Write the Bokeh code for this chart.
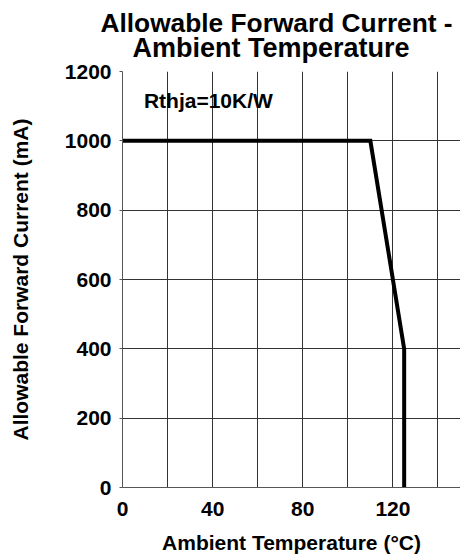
from bokeh.plotting import figure
from bokeh.models import FixedTicker, Label, Range1d, Title
from bokeh.embed import file_html
from bokeh.resources import INLINE

title_lines = ["Allowable Forward Current -", "Ambient Temperature"]
x_label = "Ambient Temperature (°C)"
y_label = "Allowable Forward Current (mA)"
note = "Rthja=10K/W"
temp = [0, 110, 125, 125]
current = [1000, 1000, 400, 0]
x_ticks = [0, 40, 80, 120]
x_grid = [20, 40, 60, 80, 100, 120, 140]
y_ticks = [0, 200, 400, 600, 800, 1000, 1200]
y_grid = [200, 400, 600, 800, 1000]

FONT = "Liberation Sans"

p = figure(width=460, height=557, output_backend="svg", toolbar_location=None,
           x_range=Range1d(0, 150), y_range=Range1d(0, 1200),
           min_border_left=122, min_border_right=0, min_border_top=71,
           min_border_bottom=70)
p.outline_line_color = None
p.background_fill_color = "white"
p.border_fill_color = "white"

t2 = Title(text=title_lines[1], align="left", offset=10, text_font=FONT,
           text_font_size="27px", text_font_style="bold", text_color="black",
           standoff=18)
t1 = Title(text=title_lines[0], align="left", offset=-22, text_font=FONT,
           text_font_size="26.3px", text_font_style="bold", text_color="black",
           standoff=-32)
p.add_layout(t2, "above")
p.add_layout(t1, "above")

p.xaxis.ticker = FixedTicker(ticks=x_ticks)
p.yaxis.ticker = FixedTicker(ticks=y_ticks)
p.xgrid.ticker = FixedTicker(ticks=x_grid)
p.ygrid.ticker = FixedTicker(ticks=y_grid)
for g in (p.xgrid, p.ygrid):
    g.grid_line_color = "#333333"
    g.grid_line_width = 1
    g.grid_line_alpha = 1

for ax in (p.xaxis, p.yaxis):
    ax.axis_line_color = "#555555"
    ax.axis_line_width = 1
    ax.major_tick_line_color = "#555555"
    ax.minor_tick_line_color = None
    ax.major_tick_in = 0
    ax.major_label_text_font = FONT
    ax.major_label_text_font_size = "21px"
    ax.major_label_text_font_style = "bold"
    ax.major_label_text_color = "black"
    ax.axis_label_text_font = FONT
    ax.axis_label_text_font_size = "21px"
    ax.axis_label_text_font_style = "bold"
    ax.axis_label_text_color = "black"

p.xaxis.major_tick_out = 0
p.xaxis.major_label_standoff = 14
p.xaxis.axis_label = x_label
p.xaxis.axis_label_standoff = 12
p.yaxis.major_tick_out = 3
p.yaxis.major_label_standoff = 8
p.yaxis.axis_label = y_label
p.yaxis.axis_label_standoff = 30

p.line(temp, current, line_width=4, line_color="black", line_join="miter")

p.add_layout(Label(x=9.5, y=1116, text=note, text_font=FONT,
                   text_font_size="21px", text_font_style="bold",
                   text_color="black", text_baseline="alphabetic"))

open("out.html", "w").write(file_html(p, INLINE))
